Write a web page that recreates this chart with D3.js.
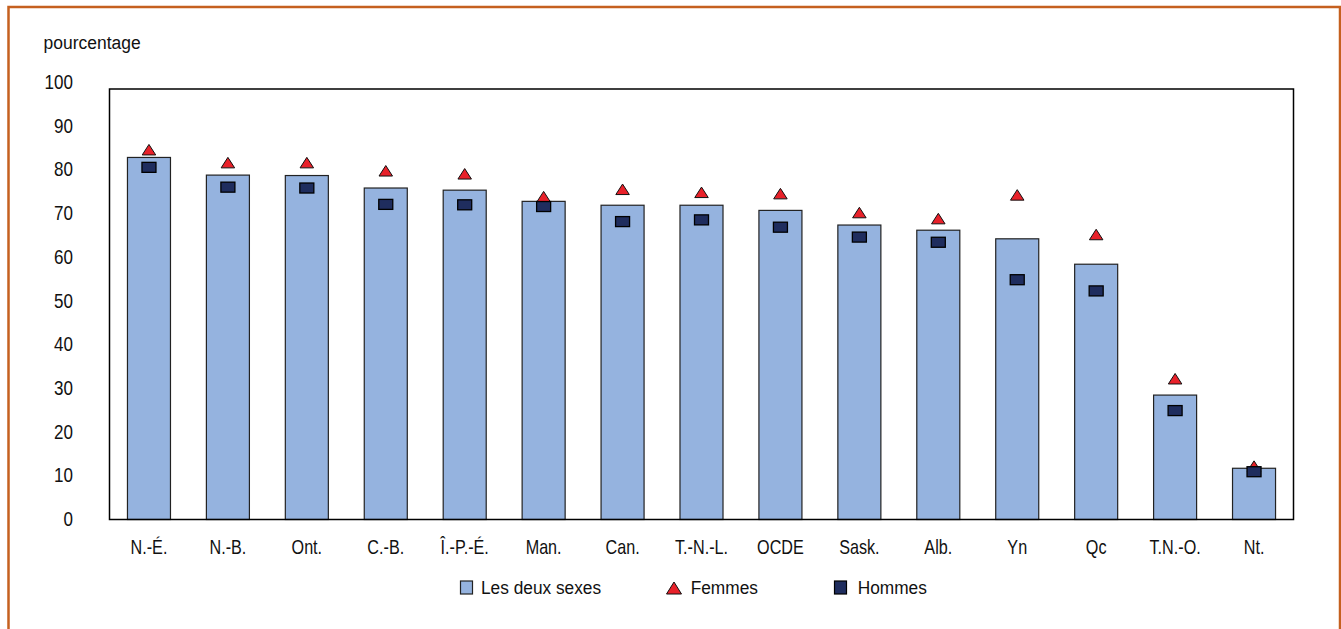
<!DOCTYPE html>
<html><head><meta charset="utf-8">
<script src="https://cdn.jsdelivr.net/npm/d3@7"></script>
<style>
html,body{margin:0;padding:0;background:#fff;}
svg{display:block;}
text{font-family:"Liberation Sans",Arial,sans-serif;fill:#111;}
</style></head>
<body>
<svg id="chart" width="1341" height="629"></svg>
<script>
const categories = ["N.-É.","N.-B.","Ont.","C.-B.","Î.-P.-É.","Man.","Can.","T.-N.-L.","OCDE","Sask.","Alb.","Yn","Qc","T.N.-O.","Nt."];
const lesDeuxSexes = [84.1,80.0,79.9,77.0,76.5,73.9,73.0,73.0,71.8,68.4,67.2,65.2,59.3,28.9,11.9];
const femmes = [85.9,82.9,82.9,81.0,80.3,75.0,76.7,76.0,75.7,71.3,69.9,75.4,66.2,32.7,12.4];
const hommes = [81.8,77.2,77.0,73.2,73.1,72.7,69.2,69.6,67.9,65.6,64.4,55.7,53.1,25.3,11.1];
const yTicks = [0,10,20,30,40,50,60,70,80,90,100];
const seriesNames = ["Les deux sexes","Femmes","Hommes"];
const yTitle = "pourcentage";

const colBar = "#95B3DF", colF = "#E8212A", colH = "#1F2D5E";
const svg = d3.select("#chart");

// outer border
svg.append("rect").attr("x",8.5).attr("y",7).attr("width",1331.5).attr("height",660)
  .attr("fill","none").attr("stroke","#C5601F").attr("stroke-width",2.5);

const pLeft=109.5, pRight=1293.5, pTop=89, pBottom=519.5;
const x = d3.scaleBand().domain(categories).range([pLeft,pRight]).paddingInner(0.455).paddingOuter(0.2275);
const y = d3.scaleLinear().domain([0,100]).range([pBottom,pTop]);
const yLab = d3.scaleLinear().domain([0,100]).range([519,82]);

// y axis labels
const yAxis = d3.axisLeft(yLab).tickValues(yTicks).tickSize(0).tickPadding(0).tickFormat(d3.format("d"));
const gy = svg.append("g").attr("transform",`translate(${pLeft-36.5},0)`).call(yAxis);
gy.select(".domain").remove();
gy.selectAll("text").attr("font-size",20.5).attr("fill","#111").style("font-family",null)
  .attr("transform","scale(0.83,1)");

svg.append("text").attr("transform","translate(43.5,49) scale(0.92,1)").attr("font-size",19).text(yTitle);

// bars
svg.append("g").selectAll("rect").data(categories).join("rect")
  .attr("x",d=>x(d)).attr("width",x.bandwidth())
  .attr("y",(d,i)=>y(lesDeuxSexes[i])).attr("height",(d,i)=>y(0)-y(lesDeuxSexes[i]))
  .attr("fill",colBar).attr("stroke","#222").attr("stroke-width",1.2);

// frame
svg.append("rect").attr("x",pLeft).attr("y",pTop).attr("width",pRight-pLeft).attr("height",pBottom-pTop)
  .attr("fill","none").attr("stroke","#000").attr("stroke-width",1.5);

// x axis labels
const xAxis = d3.axisBottom(x).tickSize(0).tickPadding(21);
const gx = svg.append("g").attr("transform",`translate(0,${pBottom})`).call(xAxis);
gx.select(".domain").remove();
gx.selectAll("text").attr("font-size",19.5).attr("fill","#111").style("font-family",null)
  .attr("transform","scale(0.83,1)");

const tri = (cx,cy,w,h)=>`M${cx},${cy-h/2}L${cx+w/2},${cy+h/2}L${cx-w/2},${cy+h/2}Z`;
// Femmes triangles
svg.append("g").selectAll("path").data(categories).join("path")
  .attr("d",(d,i)=>tri(x(d)+x.bandwidth()/2,y(femmes[i]),13.5,10.5))
  .attr("fill",colF).attr("stroke","#111").attr("stroke-width",1);
// Hommes squares
svg.append("g").selectAll("rect").data(categories).join("rect")
  .attr("x",d=>x(d)+x.bandwidth()/2-7).attr("y",(d,i)=>y(hommes[i])-5)
  .attr("width",14).attr("height",10)
  .attr("fill",colH).attr("stroke","#000").attr("stroke-width",1.3);

// legend
const lg = svg.append("g");
const ly = 587.5;
const legendText = (tx,s)=>lg.append("text").attr("transform",`translate(${tx},594.3) scale(0.91,1)`).attr("font-size",19).text(s);
lg.append("rect").attr("x",460.5).attr("y",ly-6.5).attr("width",12).attr("height",13)
  .attr("fill",colBar).attr("stroke","#222").attr("stroke-width",1.2);
legendText(481,seriesNames[0]);
lg.append("path").attr("d",tri(674,ly+0.5,15,12)).attr("fill",colF).attr("stroke","#111").attr("stroke-width",1);
legendText(690.7,seriesNames[1]);
lg.append("rect").attr("x",834.5).attr("y",ly-6.5).attr("width",12).attr("height",13)
  .attr("fill",colH).attr("stroke","#000").attr("stroke-width",1.2);
legendText(857.7,seriesNames[2]);
</script>
</body></html>
